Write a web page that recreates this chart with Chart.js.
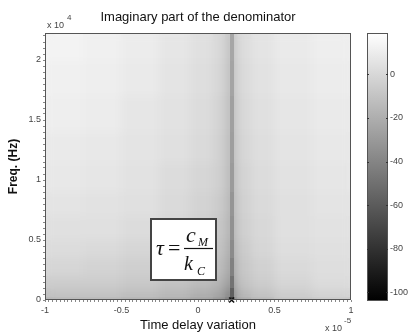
<!DOCTYPE html>
<html>
<head>
<meta charset="utf-8">
<script src="https://cdn.jsdelivr.net/npm/chart.js@4.4.1/dist/chart.umd.min.js"></script>
<style>
  body { margin: 0; background: #fff; }
  #wrap { position: relative; width: 411px; height: 333px; }
  #wrap canvas { position: absolute; top: 0; }
  #main { left: 0; }
  #cbar { left: 340px; }
</style>
</head>
<body>
<div id="wrap">
  <canvas id="main" width="411" height="333"></canvas>
  <canvas id="cbar" width="71" height="333"></canvas>
</div>
<script>
// time delay variation (x 1e-5), cell edges
const delayEdges = [-1, -0.75, -0.5, -0.25, -0.05, 0.1, 0.18, 0.21, 0.23, 0.26, 0.35, 0.5, 0.75, 1];
// frequency (x 1e4 Hz), cell edges
const freqEdges = [0, 0.03, 0.1, 0.2, 0.35, 0.5, 0.7, 0.9, 1.15, 1.4, 1.7, 2.0, 2.225];
// imaginary part of the denominator, one row per frequency band (lowest first)
const imagPart = [
  [-17, -17, -19, -22, -27, -33, -46, -75, -32, -23, -16, -10, -8],
  [-9, -9, -11, -14, -18, -23, -32, -58, -21, -14, -9, -4, -1],
  [-5, -5, -7, -10, -13, -17, -23, -49, -15, -10, -5, -1, 2],
  [-1, -2, -4, -7, -10, -13, -18, -42, -12, -8, -3, 1, 3],
  [2, 1, -1, -4, -7, -10, -15, -37, -10, -6, -1, 3, 4],
  [4, 4, 2, -1, -4, -8, -12, -34, -8, -4, 0, 4, 5],
  [6, 5, 4, 1, -2, -6, -10, -32, -7, -3, 1, 4, 6],
  [8, 7, 5, 2, -1, -4, -9, -29, -6, -2, 2, 5, 7],
  [9, 8, 6, 4, 1, -3, -8, -28, -5, -1, 3, 6, 8],
  [11, 10, 7, 5, 2, -2, -7, -27, -4, 0, 4, 7, 9],
  [12, 11, 9, 6, 3, -1, -6, -25, -3, 1, 5, 8, 10],
  [13, 12, 10, 7, 4, 0, -5, -24, -2, 2, 6, 9, 11],
];
// column holding the sharp ridge
const ridgeColumn = 7;
const markerPoint = [{ x: 0.22, y: 0 }];

const delayTicks = [-1, -0.5, 0, 0.5, 1];
const freqTicks = [0, 0.5, 1, 1.5, 2];
const colorTicks = [0, -20, -40, -60, -80, -100];
const colorMin = -104;
const colorMax = 19;

Chart.defaults.font.family = "'Liberation Sans', Arial, sans-serif";
Chart.defaults.color = "#444";

const grayFor = (v) => {
  const t = Math.min(1, Math.max(0, (v - colorMin) / (colorMax - colorMin)));
  const g = Math.round(t * 255);
  return `rgb(${g}, ${g}, ${g})`;
};

const isMajor = (v, list) => list.some((m) => Math.abs(m - v) < 1e-6);

const minorTicks = (from, to, step) => {
  const out = [];
  for (let v = from; v <= to + 1e-9; v += step) out.push({ value: Math.round(v * 1000) / 1000 });
  return out;
};

const paintCells = (ctx, x, y, onlyColumn) => {
  imagPart.forEach((row, j) => {
    row.forEach((v, i) => {
      if (onlyColumn !== undefined && i !== onlyColumn) return;
      const x0 = Math.floor(x.getPixelForValue(delayEdges[i]));
      const x1 = Math.ceil(x.getPixelForValue(delayEdges[i + 1]));
      const y0 = Math.floor(y.getPixelForValue(freqEdges[j + 1]));
      const y1 = Math.ceil(y.getPixelForValue(freqEdges[j]));
      ctx.fillStyle = grayFor(v);
      ctx.fillRect(x0, y0, x1 - x0, y1 - y0);
    });
  });
};

const heatmapPlugin = {
  id: "heatmap",
  beforeDatasetsDraw(chart) {
    const { ctx, chartArea, scales } = chart;
    const x = scales.x;
    const y = scales.y;

    // cells on an offscreen layer, smoothed when copied in
    const layer = document.createElement("canvas");
    layer.width = chart.width;
    layer.height = chart.height;
    paintCells(layer.getContext("2d"), x, y);

    ctx.save();
    ctx.beginPath();
    ctx.rect(chartArea.left, chartArea.top, chartArea.width, chartArea.height);
    ctx.clip();
    ctx.drawImage(layer, 0, 0);
    ctx.filter = "blur(5px)";
    ctx.drawImage(layer, 0, 0);
    ctx.filter = "none";
    paintCells(ctx, x, y, ridgeColumn);
    ctx.restore();
  },
  afterDatasetsDraw(chart) {
    const { ctx, chartArea, scales } = chart;
    const x = scales.x;
    const y = scales.y;
    ctx.save();
    // axes frame
    ctx.strokeStyle = "#555";
    ctx.lineWidth = 1;
    ctx.strokeRect(chartArea.left + 0.5, chartArea.top + 0.5, chartArea.width - 1, chartArea.height - 1);

    // formula box
    const L = Math.round(x.getPixelForValue(-0.31));
    const R = Math.round(x.getPixelForValue(0.12));
    const T = Math.round(y.getPixelForValue(0.675));
    const B = Math.round(y.getPixelForValue(0.167));
    ctx.fillStyle = "#fff";
    ctx.fillRect(L, T, R - L, B - T);
    ctx.strokeStyle = "#444";
    ctx.lineWidth = 2;
    ctx.strokeRect(L, T, R - L, B - T);

    ctx.fillStyle = "#111";
    ctx.textBaseline = "alphabetic";
    ctx.textAlign = "left";
    ctx.font = "italic 22px 'Liberation Serif', 'Times New Roman', serif";
    ctx.fillText("\u03C4", L + 5, T + 36);
    ctx.font = "22px 'Liberation Serif', 'Times New Roman', serif";
    ctx.fillText("=", L + 17, T + 36);
    ctx.font = "italic 22px 'Liberation Serif', 'Times New Roman', serif";
    ctx.fillText("c", L + 35, T + 23);
    ctx.font = "italic 20px 'Liberation Serif', 'Times New Roman', serif";
    ctx.fillText("k", L + 33, T + 51);
    ctx.font = "italic 12px 'Liberation Serif', 'Times New Roman', serif";
    ctx.fillText("M", L + 47, T + 27);
    ctx.fillText("C", L + 46, T + 56);
    ctx.strokeStyle = "#111";
    ctx.lineWidth = 1.2;
    ctx.beginPath();
    ctx.moveTo(L + 33, T + 29.5);
    ctx.lineTo(L + 62, T + 29.5);
    ctx.stroke();
    ctx.restore();
  },
  afterDraw(chart) {
    const { ctx, chartArea } = chart;
    ctx.save();
    ctx.fillStyle = "#444";
    ctx.textAlign = "left";
    ctx.textBaseline = "alphabetic";
    // y exponent
    ctx.font = "9px 'Liberation Sans', Arial, sans-serif";
    ctx.fillText("x 10", chartArea.left + 2, chartArea.top - 5);
    ctx.font = "8px 'Liberation Sans', Arial, sans-serif";
    ctx.fillText("4", chartArea.left + 22, chartArea.top - 13);
    // x exponent
    ctx.font = "9px 'Liberation Sans', Arial, sans-serif";
    ctx.fillText("x 10", chartArea.right - 26, chartArea.bottom + 31);
    ctx.font = "8px 'Liberation Sans', Arial, sans-serif";
    ctx.fillText("-5", chartArea.right - 7, chartArea.bottom + 23);
    ctx.restore();
  },
};

new Chart(document.getElementById("main"), {
  type: "scatter",
  data: {
    datasets: [
      {
        data: markerPoint,
        pointStyle: "crossRot",
        pointRadius: 3.5,
        borderColor: "#111",
        borderWidth: 1.5,
        clip: false,
      },
    ],
  },
  options: {
    responsive: false,
    animation: false,
    layout: { padding: { left: 0, right: 60, top: 0, bottom: 0 } },
    plugins: {
      legend: { display: false },
      tooltip: { enabled: false },
      title: {
        display: true,
        fullSize: false,
        text: "Imaginary part of the denominator",
        color: "#111",
        font: { size: 13, weight: "normal" },
        padding: { top: 10, bottom: 7.4 },
      },
    },
    scales: {
      x: {
        type: "linear",
        min: -1,
        max: 1,
        afterBuildTicks: (s) => { s.ticks = minorTicks(-1, 1, 0.025); },
        afterFit: (s) => { s.height = 33; },
        ticks: {
          autoSkip: false,
          maxRotation: 0,
          padding: 3,
          font: { size: 9 },
          callback: (v) => (isMajor(v, delayTicks) ? String(v) : ""),
        },
        grid: { drawOnChartArea: false, tickLength: 2, color: "#888" },
        border: { display: false },
        title: {
          display: true,
          text: "Time delay variation",
          color: "#111",
          font: { size: 13 },
          padding: { top: 0, bottom: 0 },
        },
      },
      y: {
        type: "linear",
        min: 0,
        max: 2.225,
        afterBuildTicks: (s) => { s.ticks = minorTicks(0, 2.2, 0.05); },
        afterFit: (s) => { s.width = 45; },
        ticks: {
          autoSkip: false,
          padding: 2,
          font: { size: 9 },
          callback: (v) => (isMajor(v, freqTicks) ? String(v) : ""),
        },
        grid: { drawOnChartArea: false, tickLength: 2, color: "#888" },
        border: { display: false },
        title: {
          display: true,
          text: "Freq. (Hz)",
          color: "#111",
          font: { size: 12, weight: "bold" },
          padding: { top: 6, bottom: 0 },
        },
      },
    },
  },
  plugins: [heatmapPlugin],
});

// colour bar
const colorbarPlugin = {
  id: "colorbar",
  beforeDatasetsDraw(chart) {
    const { ctx, chartArea, scales } = chart;
    const y = scales.y;
    ctx.save();
    const grad = ctx.createLinearGradient(0, y.getPixelForValue(colorMin), 0, y.getPixelForValue(colorMax));
    grad.addColorStop(0, grayFor(colorMin));
    grad.addColorStop(1, grayFor(colorMax));
    ctx.fillStyle = grad;
    ctx.fillRect(chartArea.left, chartArea.top, chartArea.width, chartArea.height);
    ctx.strokeStyle = "#555";
    ctx.lineWidth = 1;
    ctx.strokeRect(chartArea.left + 0.5, chartArea.top + 0.5, chartArea.width - 1, chartArea.height - 1);
    ctx.strokeStyle = "#333";
    colorTicks.forEach((v) => {
      const py = Math.round(y.getPixelForValue(v)) + 0.5;
      ctx.beginPath();
      ctx.moveTo(chartArea.left, py);
      ctx.lineTo(chartArea.left + 2, py);
      ctx.moveTo(chartArea.right - 2, py);
      ctx.lineTo(chartArea.right, py);
      ctx.stroke();
    });
    ctx.restore();
  },
};

new Chart(document.getElementById("cbar"), {
  type: "scatter",
  data: { datasets: [] },
  options: {
    responsive: false,
    animation: false,
    layout: { padding: { left: 27, right: 0, top: 33, bottom: 32 } },
    plugins: { legend: { display: false }, tooltip: { enabled: false } },
    scales: {
      x: { type: "linear", display: false, min: 0, max: 1 },
      y: {
        type: "linear",
        position: "right",
        min: colorMin,
        max: colorMax,
        afterBuildTicks: (s) => { s.ticks = colorTicks.map((value) => ({ value })); },
        afterFit: (s) => { s.width = 23; },
        ticks: { padding: 2, font: { size: 9 } },
        grid: { drawOnChartArea: false, drawTicks: false },
        border: { display: false },
      },
    },
  },
  plugins: [colorbarPlugin],
});
</script>
</body>
</html>
